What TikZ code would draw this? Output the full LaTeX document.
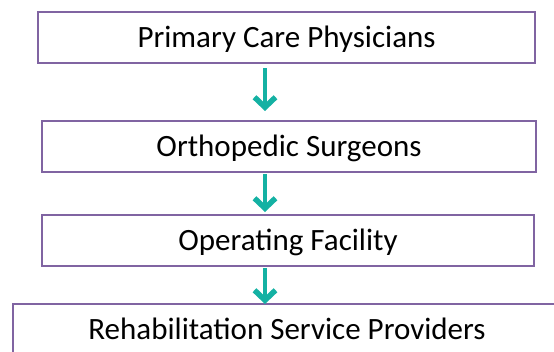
\documentclass[tikz,border=0pt]{standalone}
\usepackage{fontspec}
\setmainfont{Carlito}
\usetikzlibrary{arrows.meta}
\definecolor{boxline}{HTML}{8064A2}
\definecolor{flowteal}{HTML}{14B1A3}
\begin{document}
\begin{tikzpicture}[x=1pt,y=-1pt,
    stage/.style={draw=boxline,line width=2pt,rectangle,minimum height=51pt,
      font=\fontsize{31}{37}\selectfont,text height=20pt,text depth=0pt,inner sep=0pt},
    flow/.style={draw=flowteal,line width=4pt,-{Straight Barb[length=10pt,width=21pt,line width=5.5pt]}}]
  \useasboundingbox (0,0) rectangle (554,351);
  \coordinate (axis) at (265,0);
  \draw
    (286.5,37.5) node[stage,minimum width=497pt] (pcp){Primary Care Physicians}
    (289,146.5) node[stage,minimum width=494pt] (ortho){Orthopedic Surgeons}
    (288,240.5) node[stage,minimum width=492pt] (facility){Operating Facility}
    (287,329.5) node[stage,minimum width=548pt] (rehab){Rehabilitation Service Providers};
  \begin{scope}[flow]
    \draw[shorten <=4pt,shorten >=9pt] (pcp.south -| axis) to (ortho.north -| axis);
    \draw[shorten <=1pt,shorten >=2pt] (ortho.south -| axis) to (facility.north -| axis);
    \draw[shorten <=1pt,shorten >=-1pt] (facility.south -| axis) to (rehab.north -| axis);
  \end{scope}
\end{tikzpicture}
\end{document}
